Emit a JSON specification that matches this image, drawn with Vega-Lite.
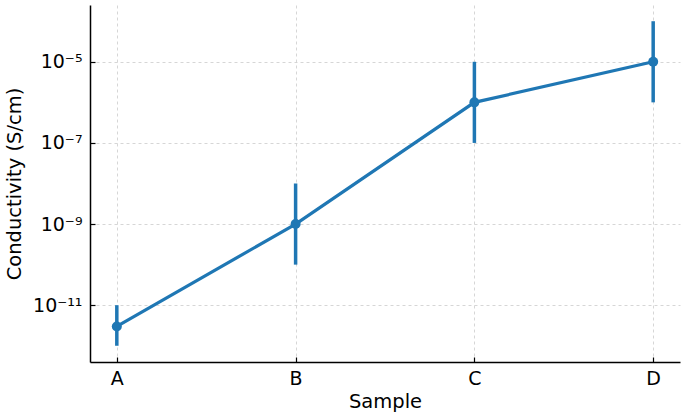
{
  "$schema": "https://vega.github.io/schema/vega-lite/v6.json",
  "autosize": "none",
  "width": 590,
  "height": 357,
  "padding": {"left": 90, "top": 5, "right": 5, "bottom": 55},
  "background": "white",
  "config": {
    "view": {"stroke": null},
    "font": "DejaVu Sans",
    "axis": {
      "labelFont": "DejaVu Sans",
      "titleFont": "DejaVu Sans",
      "labelFontSize": 19,
      "titleFontSize": 19.5,
      "labelColor": "#000000",
      "titleColor": "#000000",
      "titleFontWeight": "normal",
      "domainColor": "#000000",
      "domainWidth": 1.5,
      "tickColor": "#000000",
      "tickWidth": 1.2,
      "gridColor": "#cccccc",
      "gridDash": [3, 3],
      "gridWidth": 0.8
    }
  },
  "data": {
    "values": [
      {"Sample": "A", "value": 3e-12, "lo": 1e-12, "hi": 1e-11},
      {"Sample": "B", "value": 1e-9, "lo": 1e-10, "hi": 1e-8},
      {"Sample": "C", "value": 1e-6, "lo": 1e-7, "hi": 1e-5},
      {"Sample": "D", "value": 1e-5, "lo": 1e-6, "hi": 1e-4}
    ]
  },
  "encoding": {
    "x": {
      "field": "Sample",
      "type": "ordinal",
      "scale": {"type": "point", "padding": 0.15},
      "axis": {
        "labelAngle": 0,
        "title": "Sample",
        "grid": true,
        "tickSize": -5,
        "labelPadding": 12,
        "titlePadding": 4
      }
    }
  },
  "layer": [
    {
      "mark": {"type": "rule", "color": "#1f77b4", "strokeWidth": 3.5},
      "encoding": {
        "y": {"field": "lo", "type": "quantitative"},
        "y2": {"field": "hi"}
      }
    },
    {
      "mark": {"type": "line", "color": "#1f77b4", "strokeWidth": 3.2},
      "encoding": {
        "y": {
          "field": "value",
          "type": "quantitative",
          "scale": {"type": "log", "domain": [3.98e-13, 2.51e-4], "nice": false},
          "axis": {
            "title": "Conductivity (S/cm)",
            "values": [1e-11, 1e-9, 1e-7, 1e-5],
            "grid": true,
            "tickSize": -5,
            "labelPadding": 13,
            "titlePadding": 8,
            "labelExpr": "datum.value < 5e-11 ? '10⁻¹¹' : datum.value < 5e-9 ? '10⁻⁹' : datum.value < 5e-7 ? '10⁻⁷' : '10⁻⁵'"
          }
        }
      }
    },
    {
      "mark": {"type": "point", "filled": true, "color": "#1f77b4", "size": 100, "opacity": 1},
      "encoding": {
        "y": {"field": "value", "type": "quantitative"}
      }
    }
  ]
}
